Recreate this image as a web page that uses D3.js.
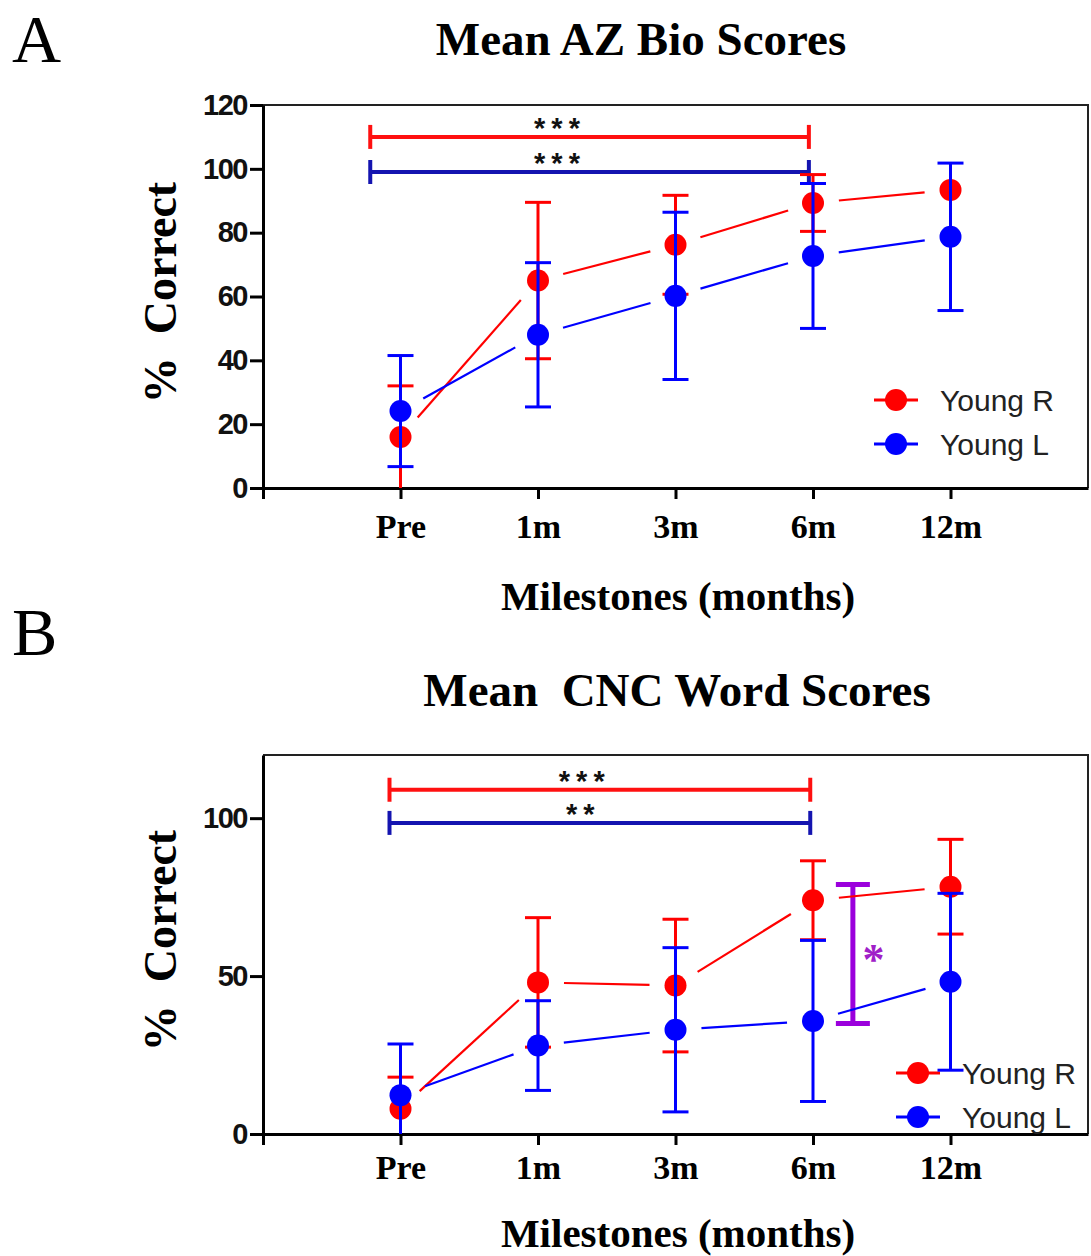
<!DOCTYPE html>
<html>
<head>
<meta charset="utf-8">
<script src="https://cdn.jsdelivr.net/npm/d3@7"></script>
<style>
body { margin: 0; background: #fff; }
svg { display: block; }
</style>
</head>
<body>
<svg width="1091" height="1256"></svg>
<script>
// milestones on the x axis
var categories = ["Pre", "1m", "3m", "6m", "12m"];
var seriesNames = ["Young R", "Young L"];

// panel A: AZ Bio, mean and error (half length)
var azYoungR = [16, 65, 76.2, 89.3, 93.4];
var azYoungRErr = [16, 24.5, 15.5, 8.9, 0];
var azYoungL = [24.1, 48, 60.2, 72.7, 78.7];
var azYoungLErr = [17.4, 22.6, 26.2, 22.7, 23.1];
var azTicks = [0, 20, 40, 60, 80, 100, 120];

// panel B: CNC words
var cncYoungR = [8, 48, 47, 74, 78.3];
var cncYoungRErr = [10, 20.5, 21, 12.5, 15];
var cncYoungL = [12.3, 28, 33, 35.8, 48.2];
var cncYoungLErr = [16.2, 14.2, 26, 25.5, 28];
var cncTicks = [0, 50, 100];

// significance brackets: from/to in category index, y in % correct
var azBrackets = [
    { from: -0.22, to: 2.97, y: 110, label: "***", labelAt: 1.16, series: 0 },
    { from: -0.22, to: 2.97, y: 99, label: "***", labelAt: 1.16, series: 1 }
];
var cncBrackets = [
    { from: -0.08, to: 2.98, y: 109, label: "***", labelAt: 1.34, series: 0 },
    { from: -0.08, to: 2.98, y: 98.5, label: "**", labelAt: 1.33, series: 1 }
];
// R vs L at 6m
var cncPair = { x: 3.29, low: 35, high: 79, label: "*", labelAt: 3.44, labelY: 57 };

var colors = ["#ff0000", "#0000ff"];
var bracketColors = ["#ff1010", "#1414b0"];
var purple = "#9b00dc";

var svg = d3.select("svg");

function drawPanel(p) {
    var g = svg.append("g");

    var x = d3.scaleLinear().domain([-1, 5]).range([263, 1088]);
    var y = d3.scaleLinear().domain([0, 120]).range([p.bottom, p.top]).clamp(true);

    // panel letter and title
    g.append("text").attr("x", 12).attr("y", p.letterY)
        .style("font", "68px 'Liberation Serif'").text(p.letter);
    g.append("text").attr("x", p.titleX).attr("y", p.titleY)
        .attr("text-anchor", "middle")
        .style("font", "bold 47px 'Liberation Serif'")
        .style("white-space", "pre")
        .text(p.title);

    // top and right frame
    g.append("path")
        .attr("d", "M263," + p.top + "H1088V" + p.bottom)
        .attr("fill", "none").attr("stroke", "#222").attr("stroke-width", 2);

    // y axis
    var yAxis = g.append("g").attr("transform", "translate(263,0)")
        .call(d3.axisLeft(y).tickValues(p.ticks).tickSize(13).tickSizeOuter(0).tickPadding(3));
    yAxis.select(".domain").attr("stroke", "#000").attr("stroke-width", 3);
    yAxis.selectAll(".tick line").attr("stroke", "#000").attr("stroke-width", 3);
    yAxis.selectAll(".tick text")
        .style("font", "bold 29px 'Liberation Sans'")
        .style("letter-spacing", "-1.5px")
        .attr("fill", "#111");

    // x axis
    var xAxis = g.append("g").attr("transform", "translate(0," + p.bottom + ")")
        .call(d3.axisBottom(x).tickValues([-1, 0, 1, 2, 3, 4])
            .tickFormat(function (d) { return d < 0 ? "" : categories[d]; })
            .tickSize(11).tickSizeOuter(0));
    xAxis.select(".domain").attr("stroke", "#000").attr("stroke-width", 3);
    xAxis.selectAll(".tick line").attr("stroke", "#000").attr("stroke-width", 3);
    xAxis.selectAll(".tick text")
        .attr("y", p.xLabelOffset).attr("dy", null)
        .style("font", "bold 34px 'Liberation Serif'")
        .attr("fill", "#000");

    // axis titles
    g.append("text")
        .attr("transform", "translate(176," + ((p.top + p.bottom) / 2 - 4) + ") rotate(-90)")
        .attr("text-anchor", "middle")
        .style("font", "bold 46px 'Liberation Serif'")
        .style("white-space", "pre")
        .text("%  Correct");
    g.append("text").attr("x", 678).attr("y", p.bottom + p.xTitleOffset)
        .attr("text-anchor", "middle")
        .style("font", "bold 41px 'Liberation Serif'")
        .text("Milestones (months)");

    // significance brackets
    p.brackets.forEach(function (b) {
        var c = bracketColors[b.series];
        var by = y(b.y);
        g.append("line").attr("x1", x(b.from)).attr("x2", x(b.to))
            .attr("y1", by).attr("y2", by)
            .attr("stroke", c).attr("stroke-width", 4);
        [b.from, b.to].forEach(function (e) {
            g.append("line").attr("x1", x(e)).attr("x2", x(e))
                .attr("y1", by - 12).attr("y2", by + 12)
                .attr("stroke", c).attr("stroke-width", 4);
        });
        g.append("text").attr("x", x(b.labelAt)).attr("y", by + 1)
            .attr("text-anchor", "middle")
            .style("font", "bold 29px 'Liberation Sans'")
            .style("letter-spacing", "6px")
            .attr("fill", "#111")
            .text(b.label);
    });

    if (p.pair) {
        var q = p.pair, px = x(q.x);
        g.append("line").attr("x1", px).attr("x2", px)
            .attr("y1", y(q.low)).attr("y2", y(q.high))
            .attr("stroke", purple).attr("stroke-width", 5);
        [q.low, q.high].forEach(function (v) {
            g.append("line").attr("x1", px - 17).attr("x2", px + 17)
                .attr("y1", y(v)).attr("y2", y(v))
                .attr("stroke", purple).attr("stroke-width", 5);
        });
        g.append("text").attr("x", x(q.labelAt)).attr("y", y(q.labelY) + 20)
            .attr("text-anchor", "middle")
            .style("font", "bold 44px 'Liberation Serif'")
            .attr("fill", "#a020c8")
            .text(q.label);
    }

    // series: error bars, connecting lines with gaps, markers
    var gap = 26, r = 11;
    p.series.forEach(function (s, si) {
        var c = colors[si];
        var sg = g.append("g");
        var pts = s.values.map(function (v, i) { return { x: x(i), y: y(v), v: v, e: s.errs[i] }; });

        pts.forEach(function (d) {
            if (d.e <= 0) return;
            var hi = y(d.v + d.e), lo = y(d.v - d.e);
            sg.append("line").attr("x1", d.x).attr("x2", d.x).attr("y1", hi).attr("y2", lo)
                .attr("stroke", c).attr("stroke-width", 3);
            [hi, lo].forEach(function (yy) {
                if (yy >= p.bottom - 1) return;
                sg.append("line").attr("x1", d.x - 13).attr("x2", d.x + 13)
                    .attr("y1", yy).attr("y2", yy)
                    .attr("stroke", c).attr("stroke-width", 3);
            });
        });

        d3.pairs(pts).forEach(function (pr) {
            var a = pr[0], b = pr[1];
            var dx = b.x - a.x, dy = b.y - a.y, len = Math.sqrt(dx * dx + dy * dy);
            var ux = dx / len, uy = dy / len;
            sg.append("line")
                .attr("x1", a.x + ux * gap).attr("y1", a.y + uy * gap)
                .attr("x2", b.x - ux * gap).attr("y2", b.y - uy * gap)
                .attr("stroke", c).attr("stroke-width", 2.2);
        });

        sg.selectAll("circle").data(pts).enter().append("circle")
            .attr("cx", function (d) { return d.x; })
            .attr("cy", function (d) { return d.y; })
            .attr("r", r).attr("fill", c);

        // legend entry
        var lx = p.legendX, ly = p.legendY + si * p.legendStep;
        sg.append("line").attr("x1", lx - 22).attr("x2", lx + 22)
            .attr("y1", ly).attr("y2", ly)
            .attr("stroke", c).attr("stroke-width", 3);
        sg.append("circle").attr("cx", lx).attr("cy", ly).attr("r", r).attr("fill", c);
        sg.append("text").attr("x", lx + 44).attr("y", ly + 11)
            .style("font", "30px 'Liberation Sans'")
            .attr("fill", "#222")
            .text(seriesNames[si]);
    });
}

drawPanel({
    letter: "A", letterY: 62,
    title: "Mean AZ Bio Scores", titleX: 641, titleY: 55,
    top: 105, bottom: 488, ticks: azTicks,
    xLabelOffset: 50, xTitleOffset: 122,
    brackets: azBrackets, pair: null,
    series: [
        { values: azYoungR, errs: azYoungRErr },
        { values: azYoungL, errs: azYoungLErr }
    ],
    legendX: 896, legendY: 400, legendStep: 44
});

drawPanel({
    letter: "B", letterY: 655,
    title: "Mean  CNC Word Scores", titleX: 677, titleY: 706,
    top: 755, bottom: 1134, ticks: cncTicks,
    xLabelOffset: 45, xTitleOffset: 113,
    brackets: cncBrackets, pair: cncPair,
    series: [
        { values: cncYoungR, errs: cncYoungRErr },
        { values: cncYoungL, errs: cncYoungLErr }
    ],
    legendX: 918, legendY: 1073, legendStep: 44
});
</script>
</body>
</html>
